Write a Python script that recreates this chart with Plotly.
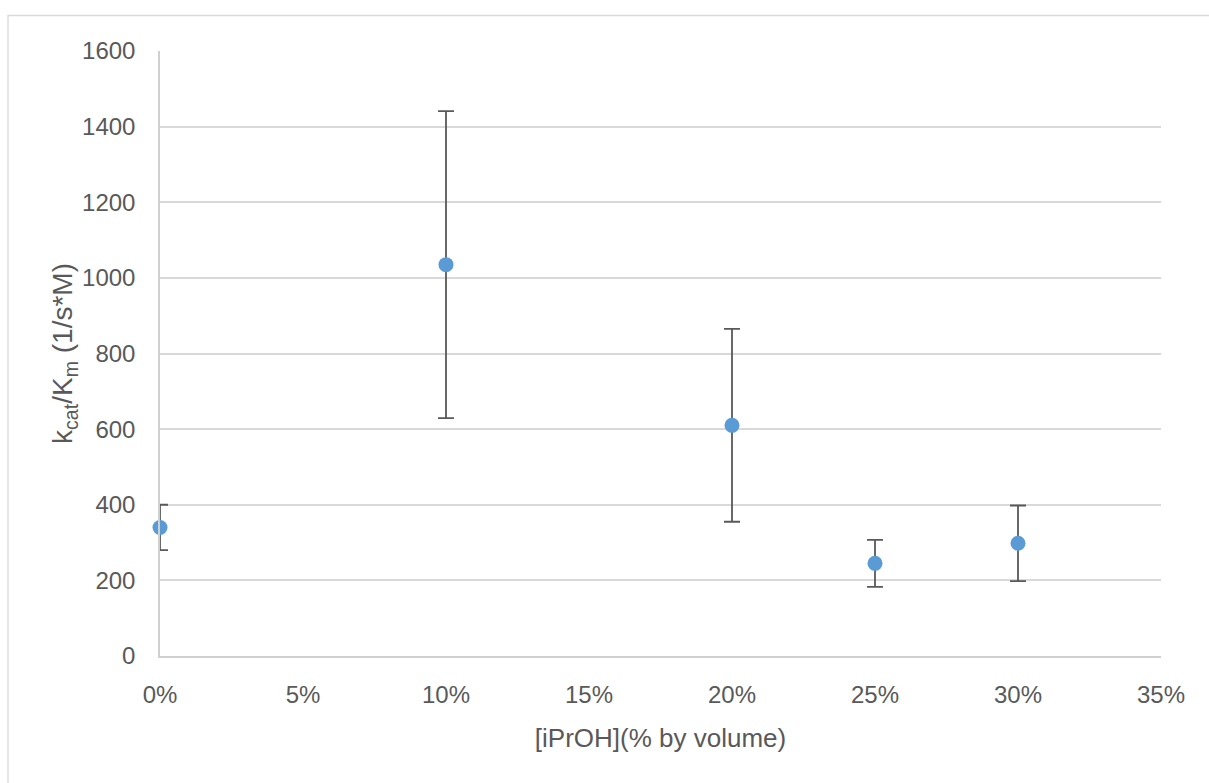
import plotly.graph_objects as go

# Data
ipr_oh = [0.00, 0.10, 0.20, 0.25, 0.30]          # fraction by volume
kcat_km = [340, 1035, 610, 245, 298]             # 1/(s*M)
kcat_km_err = [60, 406, 255, 62, 100]            # symmetric error

x_tickvals = [0, 0.05, 0.10, 0.15, 0.20, 0.25, 0.30, 0.35]
y_tickvals = [0, 200, 400, 600, 800, 1000, 1200, 1400, 1600]

W, H = 1209, 783
ML, MR, MT, MB = 160, 48, 51, 127
PW, PH = W - ML - MR, H - MT - MB

FONT = "Liberation Sans, Arial, sans-serif"
TXT = "#595959"
GRID = "#d9d9d9"

fig = go.Figure()

# error bars (clipped to plot area like the reference)
fig.add_trace(go.Scatter(
    x=ipr_oh, y=kcat_km, mode="markers",
    marker=dict(size=1, color="rgba(0,0,0,0)"),
    error_y=dict(type="data", array=kcat_km_err, visible=True,
                 color="#595959", thickness=1.8, width=8),
    cliponaxis=True, hoverinfo="skip", showlegend=False,
))
# markers (not clipped)
fig.add_trace(go.Scatter(
    x=ipr_oh, y=kcat_km, mode="markers",
    marker=dict(size=15, color="#5B9BD5", line=dict(width=0)),
    cliponaxis=False, showlegend=False,
))

# outer chart border
fig.add_shape(type="rect", xref="paper", yref="paper",
              x0=(8 - ML) / PW, x1=(1260 - ML) / PW,
              y0=(H - 830 - MB) / PH, y1=1 + (MT - 15.5) / PH,
              line=dict(color=GRID, width=1.3), layer="below")

fig.update_layout(
    width=W, height=H,
    margin=dict(l=ML, r=MR, t=MT, b=MB),
    paper_bgcolor="white", plot_bgcolor="white",
    font=dict(family=FONT, color=TXT, size=24),
    xaxis=dict(
        range=[0, 0.35], tickvals=x_tickvals, tickformat=".0%",
        showgrid=False, zeroline=False,
        showline=True, linecolor="#d0d0d0", linewidth=1.5,
        ticks="", ticklabelstandoff=16,
        tickfont=dict(size=24, color=TXT),
        title=dict(text="[iPrOH](% by volume)", font=dict(size=26, color=TXT), standoff=22),
    ),
    yaxis=dict(
        range=[0, 1600], tickvals=y_tickvals,
        showgrid=True, gridcolor=GRID, gridwidth=1.5, zeroline=False,
        showline=True, linecolor="#d0d0d0", linewidth=1.5,
        ticks="", ticklabelstandoff=18,
        tickfont=dict(size=24, color=TXT),
        title=dict(text="k<sub>cat</sub>/K<sub>m</sub> (1/s*M)", font=dict(size=28, color=TXT), standoff=0),
    ),
)

fig.write_html("out.html")
